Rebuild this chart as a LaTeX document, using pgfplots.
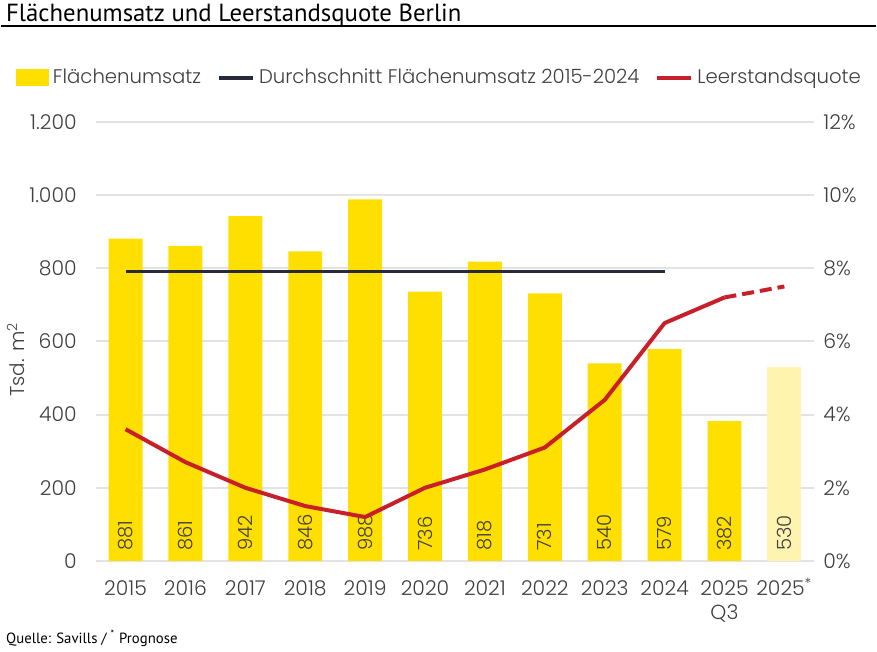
\documentclass[border=0pt]{standalone}
\usepackage{fontspec}
\IfFontExistsTF{Poppins Light}{\setmainfont{Poppins Light}}{\setmainfont{Poppins}}
\newfontfamily\titlefont{PT Sans}
\usepackage{pgfplots}
\pgfplotsset{compat=1.18}

\definecolor{bargelb}{HTML}{FFDF00}
\definecolor{prognose}{HTML}{FFF3B0}
\definecolor{schnitt}{HTML}{272A3A}
\definecolor{quote}{HTML}{C8202A}
\definecolor{txt}{HTML}{404040}
\definecolor{gitter}{HTML}{E3E3E3}

\begin{document}
\begin{tikzpicture}
\pgfplotsset{
  basis/.style={
    scale only axis,
    width=360pt, height=220pt,
    xmin=-0.5, xmax=11.5,
    axis line style={draw=none},
    major tick length=0pt,
    tick label style={font=\fontsize{10.2}{12}\selectfont, text=txt},
    /pgf/number format/assume math mode=true,
  }
}
\begin{axis}[
  basis,
  ymin=0, ymax=1200,
  ytick={0,200,...,1200},
  ymajorgrids,
  grid style={gitter, line width=1pt},
  /pgf/number format/.cd, 1000 sep={.}, /pgfplots/.cd,
  yticklabel style={xshift=-6pt},
  xtick={0,...,11},
  xticklabels={2015,2016,2017,2018,2019,2020,2021,2022,2023,2024,{2025\\Q3},{2025\smash{\textsuperscript{*}}}},
  xticklabel style={align=center, yshift=-6.5pt},
  ylabel={Tsd. m\textsuperscript{2}},
  ylabel style={at={(axis description cs:-0.111,0.459)}, anchor=center, font=\fontsize{10}{12}\selectfont, text=txt},
  legend style={at={(axis description cs:-0.111,1.1)}, anchor=west, draw=none, fill=none,
    font=\fontsize{9.85}{12}\selectfont, text=txt, inner sep=0pt,
    /tikz/every even column/.append style={column sep=6pt}},
  legend columns=3,
  legend cell align=left,
]
\addlegendimage{legend image code/.code={\fill[bargelb] (0pt,-4pt) rectangle (16pt,4pt);}}
\addlegendentry{Flächenumsatz}
\addlegendimage{legend image code/.code={\draw[schnitt, line width=2pt] (0pt,0pt) -- (17pt,0pt);}}
\addlegendentry{Durchschnitt Flächenumsatz 2015-2024}
\addlegendimage{legend image code/.code={\draw[quote, line width=2pt] (0pt,0pt) -- (17pt,0pt);}}
\addlegendentry{Leerstandsquote}

% Flaechenumsatz
\addplot[ybar, bar width=17pt, bar shift=0pt, fill=bargelb, draw=none, forget plot]
  coordinates {(0,881) (1,861) (2,942) (3,846) (4,988) (5,736) (6,818) (7,731) (8,540) (9,579) (10,382)};
\addplot[ybar, bar width=17pt, bar shift=0pt, fill=prognose, draw=none, forget plot]
  coordinates {(11,530)};

% Werte in den Balken
\addplot[only marks, mark=none, forget plot, point meta=explicit symbolic,
  nodes near coords,
  nodes near coords style={rotate=90, anchor=west, inner sep=0pt, text=txt, font=\fontsize{9.8}{11}\selectfont}]
  coordinates {(0,27)[881] (1,27)[861] (2,27)[942] (3,27)[846] (4,27)[988] (5,27)[736]
               (6,27)[818] (7,27)[731] (8,27)[540] (9,27)[579] (10,27)[382] (11,27)[530]};

% Durchschnitt 2015-2024
\addplot[schnitt, line width=1.5pt, forget plot] coordinates {(0,792) (9,792)};
\end{axis}

\begin{axis}[
  basis,
  ymin=0, ymax=12,
  ytick={0,2,...,12},
  axis x line=none,
  axis y line*=right,
  yticklabel={\pgfmathprintnumber{\tick}\%},
  yticklabel style={xshift=1pt},
]
\addplot[quote, line width=2pt] coordinates {(0,3.6) (1,2.7) (2,2.0) (3,1.5) (4,1.2) (5,2.0) (6,2.5) (7,3.1) (8,4.4) (9,6.5) (10,7.2)};
\addplot[quote, line width=2pt, dash pattern=on 6pt off 3pt] coordinates {(10,7.2) (11,7.5)};
\end{axis}

\node[anchor=base west, inner sep=0pt, font=\titlefont\fontsize{12.4}{14}\selectfont] at (-45pt,270pt) {Flächenumsatz und Leerstandsquote Berlin};
\draw[black, line width=0.8pt] (-47.5pt,268pt) -- (391pt,268pt);
\node[anchor=base west, inner sep=0pt, font=\titlefont\fontsize{7.4}{8}\selectfont] at (-45pt,-41.5pt) {Quelle: Savills / \textsuperscript{*} Prognose};

\path[use as bounding box] (-47.5pt,-45.5pt) rectangle (391pt,281pt);
\end{tikzpicture}
\end{document}
